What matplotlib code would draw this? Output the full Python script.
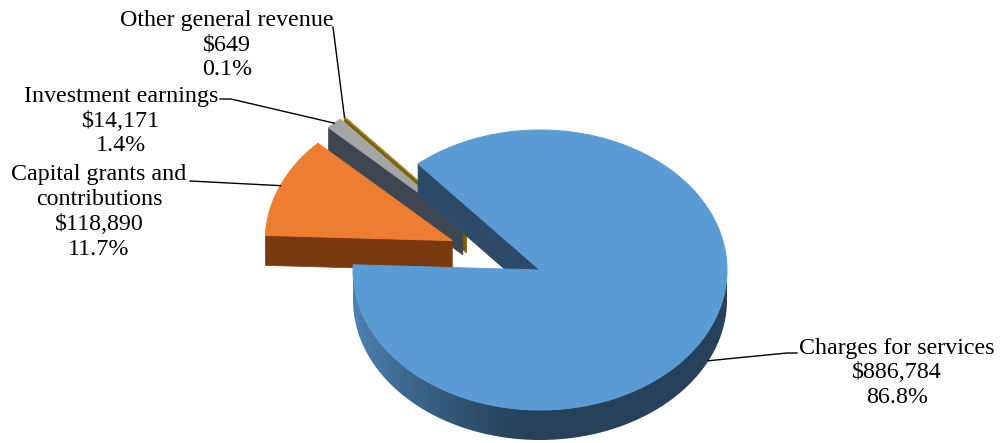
import numpy as np
import matplotlib.pyplot as plt
from matplotlib.colors import to_rgb

# data
labels = ["Charges for services", "Capital grants and\ncontributions",
          "Investment earnings", "Other general revenue"]
amounts = [886784, 118890, 14171, 649]
pct_text = ["86.8%", "11.7%", "1.4%", "0.1%"]

top_colors = ["#5B9BD5", "#ED7D31", "#A5A5A5", "#FFC000"]
cut_colors = ["#2C4A68", "#7A3A10", "#3E4652", "#7F6000"]
edge_colors = ["#5B9BD5", "#ED7D31", "#A5A5A5", "#A08A3A"]
explode = [0.0, 0.51, 0.6, 0.6]
explode_v = [1.0, 1.05, 0.74, 0.74]   # vertical squash of the explode shift

# pseudo 3d geometry (pixel space)
cx, cy = 540, 270
rx, ry = 187, 140
depth = 30
start = 130.7

fig = plt.figure(figsize=(10, 4.43), dpi=100)
ax = fig.add_axes([0, 0, 1, 1])

vals = np.array(amounts, dtype=float)
spans = vals / vals.sum() * 360
his = start - np.concatenate([[0], np.cumsum(spans)[:-1]])
los = his - spans


def pt(x0, y0, t, z=0):
    t = np.radians(t)
    return np.column_stack([x0 + rx * np.cos(t), y0 - ry * np.sin(t) + z])


slices = []
for i in range(len(vals)):
    mid = (los[i] + his[i]) / 2
    ox = cx + explode[i] * rx * np.cos(np.radians(mid))
    oy = cy - explode[i] * explode_v[i] * ry * np.sin(np.radians(mid))
    slices.append((ox, oy, mid))

order = [3, 2, 1, 0]
z = 1
for i in order:
    ox, oy, mid = slices[i]
    lo, hi = los[i], his[i]
    base = np.array(to_rgb(top_colors[i]))

    # outer side (front-facing part), shaded left->right
    for m in (-1, 0, 1):
        a, b = max(lo, -180 + 360 * m), min(hi, 360 * m)
        if b <= a:
            continue
        ts = np.linspace(a, b, 200)
        side = np.vstack([pt(ox, oy, ts), pt(ox, oy, ts[::-1], depth)])
        x0, x1 = side[:, 0].min(), side[:, 0].max()
        y0, y1 = side[:, 1].min(), side[:, 1].max()
        xs = np.linspace(x0, x1, 400)
        f = 0.42 + 0.42 * np.clip((ox - xs) / rx, 0, 1) ** 1.5
        img = np.clip(base[None, :] * f[:, None], 0, 1)[None, :, :]
        img = np.repeat(img, 2, axis=0)
        poly = plt.Polygon(side, closed=True, fc='none', ec='none')
        ax.add_patch(poly)
        im = ax.imshow(img, extent=[x0, x1, y1, y0], aspect='auto',
                       interpolation='bilinear', zorder=z)
        im.set_clip_path(poly)
        z += 1

    # cut faces
    for ang, nrm in ((hi, hi + 90), (lo, lo - 90)):
        if np.sin(np.radians(nrm)) < 0:
            p = pt(ox, oy, [ang])[0]
            face = [[ox, oy], p, p + [0, depth], [ox, oy + depth]]
            ax.add_patch(plt.Polygon(face, closed=True, fc=cut_colors[i],
                                     ec=cut_colors[i], lw=0.5, zorder=z))
            z += 1

    # top face
    ts = np.linspace(lo, hi, max(int(hi - lo), 2))
    top = np.vstack([[ox, oy], pt(ox, oy, ts)])
    ax.add_patch(plt.Polygon(top, closed=True, fc=top_colors[i],
                             ec=edge_colors[i], lw=0.7, zorder=z))
    z += 1

ax.set_xlim(0, 1000)
ax.set_ylim(443, 0)
ax.axis('off')

# labels
font = dict(family='Liberation Serif', fontsize=17.3, color='black',
            ha='center', va='center', multialignment='center', linespacing=1.23,
            zorder=z + 2)
texts = [f"{l}\n${a:,}\n{p}" for l, a, p in zip(labels, amounts, pct_text)]
ax.text(897, 373, texts[0], **font)
ax.text(99, 212, texts[1], **font)
ax.text(121, 121, texts[2], **font)
ax.text(227, 45, texts[3], **font)

# leader lines
anchors = []
for i in range(len(vals)):
    ox, oy, mid = slices[i]
    a = pt(ox, oy, [mid])[0]
    if i == 0:
        a = a + [0, depth]
    anchors.append(a)

lk = dict(color='black', lw=1.0, zorder=z + 1)
a = anchors[0]
ax.plot([a[0], 787, 797], [a[1], 353, 353], **lk)
a = anchors[1]
ax.plot([190, a[0]], [181, a[1]], **lk)
a = anchors[2]
ax.plot([220, 231, a[0]], [99, 99, a[1]], **lk)
a = anchors[3]
ax.plot([333, a[0]], [27, a[1]], **lk)

fig.savefig('out.png', dpi=100, facecolor='white')
